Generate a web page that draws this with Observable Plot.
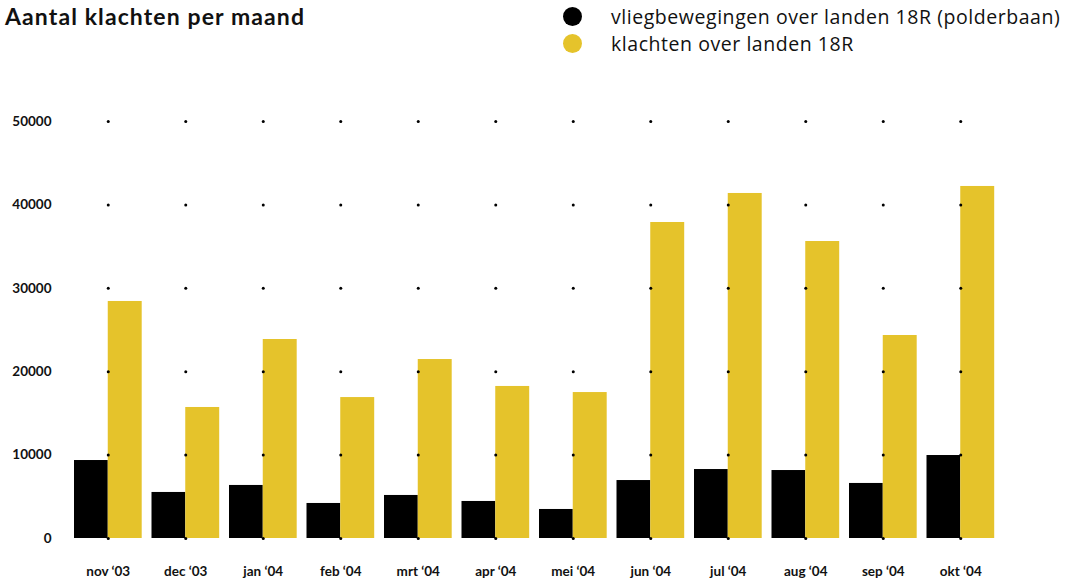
<!DOCTYPE html>
<html>
<head>
<meta charset="utf-8">
<script src="https://cdn.jsdelivr.net/npm/d3@7"></script>
<script src="https://cdn.jsdelivr.net/npm/@observablehq/plot@0.6"></script>
<style>
  html, body { margin: 0; padding: 0; background: #fff; }
  body { width: 1069px; height: 584px; overflow: hidden; font-family: Lato, "Noto Sans", sans-serif; }
  #header { position: relative; height: 70px; }
  #title { position: absolute; left: 5px; top: 2px; font-size: 23px; font-weight: 700; color: #111; letter-spacing: 1.1px; }
  .leg { position: absolute; left: 563px; display: flex; align-items: center; font-family: "Open Sans", sans-serif; font-size: 19.5px; letter-spacing: 0.55px; color: #111; }
  .sw { width: 19px; height: 19px; border-radius: 50%; margin-right: 29px; }
  #chart svg { display: block; }
</style>
</head>
<body>
<div id="header">
  <div id="title">Aantal klachten per maand</div>
  <div class="leg" style="top:3px"><span class="sw" style="background:#000"></span><span id="l1"></span></div>
  <div class="leg" style="top:30px"><span class="sw" style="background:#E5C32B"></span><span id="l2"></span></div>
</div>
<div id="chart"></div>
<script>
const months = ["nov ‘03", "dec ‘03", "jan ‘04", "feb ‘04", "mrt ‘04", "apr ‘04", "mei ‘04", "jun ‘04", "jul ‘04", "aug ‘04", "sep ‘04", "okt ‘04"];
const seriesNames = ["vliegbewegingen over landen 18R (polderbaan)", "klachten over landen 18R"];
const flights = [9350, 5520, 6360, 4200, 5160, 4440, 3480, 6950, 8270, 8150, 6600, 9950];
const complaints = [28420, 15710, 23860, 16900, 21460, 18230, 17500, 37890, 41370, 35610, 24340, 42210];
const yTicks = [0, 10000, 20000, 30000, 40000, 50000];
const colors = ["#000000", "#E5C32B"];

document.getElementById("l1").textContent = seriesNames[0];
document.getElementById("l2").textContent = seriesNames[1];

const flightData = months.map((m, i) => ({month: m, value: flights[i]}));
const complaintData = months.map((m, i) => ({month: m, value: complaints[i]}));
const gridData = months.flatMap(m => yTicks.map(t => ({month: m, value: t})));

const chart = Plot.plot({
  width: 1069,
  height: 514,
  marginLeft: 69,
  marginRight: 70,
  marginTop: 51,
  marginBottom: 46,
  style: {fontFamily: "Lato, 'Noto Sans', sans-serif", fontSize: "13.5px", fontWeight: "700", color: "#111"},
  x: {domain: months, padding: 0, align: 0.5, round: false},
  y: {domain: [0, 50000]},
  marks: [
    Plot.barY(flightData, {x: "month", y: "value", fill: colors[0], insetLeft: 5, insetRight: 38.75}),
    Plot.barY(complaintData, {x: "month", y: "value", fill: colors[1], insetLeft: 38.75, insetRight: 4.8}),
    Plot.dot(gridData, {x: "month", y: "value", r: 1.5, fill: "#000", stroke: null}),
    Plot.axisY({ticks: yTicks, tickSize: 0, tickPadding: 18, tickFormat: d => String(d), label: null}),
    Plot.axisX({tickSize: 0, tickPadding: 28, label: null})
  ]
});
document.getElementById("chart").appendChild(chart);
</script>
</body>
</html>
